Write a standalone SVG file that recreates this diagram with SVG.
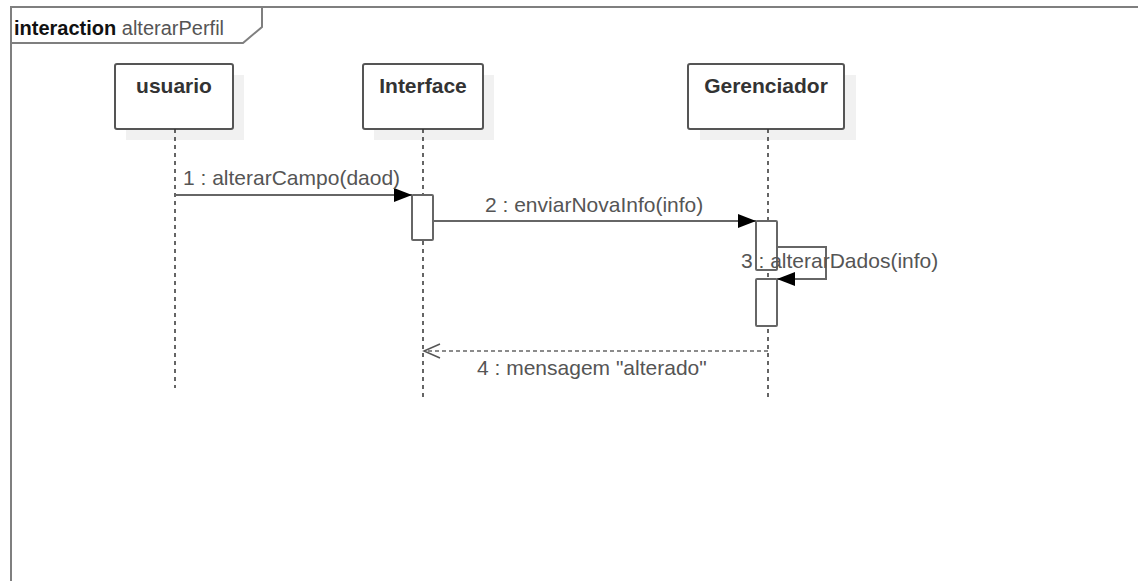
<svg xmlns="http://www.w3.org/2000/svg" width="1138" height="581" viewBox="0 0 1138 581">
<defs>
<style>
.frame{fill:none;stroke:#7f7f7f;stroke-width:2}
.box{fill:#ffffff;stroke:#555555;stroke-width:2}
.shadow{fill:#f1f1f1;stroke:none}
.life{fill:none;stroke:#333333;stroke-width:1.5;stroke-dasharray:4 4}
.act{fill:#ffffff;stroke:#666666;stroke-width:2}
.msg{fill:none;stroke:#666666;stroke-width:2}
.ret{fill:none;stroke:#666666;stroke-width:1.5;stroke-dasharray:4 3}
.title{font-family:"Liberation Sans",Arial,sans-serif;font-size:21px;font-weight:bold;fill:#333333;text-anchor:middle}
.lbl{font-family:"Liberation Sans",Arial,sans-serif;font-size:21px;fill:#555555}
</style>
<marker id="filled" markerWidth="20" markerHeight="14" refX="18" refY="7" orient="auto" markerUnits="userSpaceOnUse">
<path d="M0,0 L18,7 L0,14 Z" fill="#000000"/>
</marker>
<marker id="open" markerWidth="20" markerHeight="16" refX="17" refY="8" orient="auto" markerUnits="userSpaceOnUse">
<path d="M1,1 L17,8 L1,15" fill="none" stroke="#555555" stroke-width="1.5"/>
</marker>
</defs>
<rect width="1138" height="581" fill="#ffffff"/>
<g id="frame">
<path class="frame" d="M11,581 L11,7 L1140,7"/>
<path class="frame" d="M11,43 L243,43 L262,27 L262,7"/>
<text x="14" y="35" style="font-family:'Liberation Sans',Arial,sans-serif;font-size:20px"><tspan font-weight="bold" fill="#111111">interaction</tspan><tspan fill="#555555"> alterarPerfil</tspan></text>
</g>
<g id="usuario">
<rect class="shadow" x="126" y="75" width="118" height="65"/>
<rect class="box" x="115" y="64" width="118" height="65" rx="2"/>
<text class="title" x="174" y="93">usuario</text>
<line class="life" x1="175" y1="129" x2="175" y2="388"/>
</g>
<g id="interface">
<rect class="shadow" x="374" y="75" width="120" height="65"/>
<rect class="box" x="363" y="64" width="120" height="65" rx="2"/>
<text class="title" x="423" y="93">Interface</text>
<line class="life" x1="423" y1="129" x2="423" y2="398"/>
<rect class="act" x="412" y="195" width="21" height="45" rx="1"/>
</g>
<g id="gerenciador">
<rect class="shadow" x="700" y="75" width="156" height="65"/>
<rect class="box" x="688" y="64" width="156" height="65" rx="2"/>
<text class="title" x="766" y="93">Gerenciador</text>
<line class="life" x1="768" y1="129" x2="768" y2="398"/>
<rect class="act" x="756" y="221" width="21" height="49" rx="1"/>
<rect class="act" x="756" y="279" width="21" height="47" rx="1"/>
</g>
<g id="connectors">
<line class="msg" x1="175" y1="195" x2="412" y2="195" marker-end="url(#filled)"/>
<text class="lbl" x="183" y="185">1 : alterarCampo(daod)</text>
<line class="msg" x1="433" y1="221" x2="756" y2="221" marker-end="url(#filled)"/>
<text class="lbl" x="485" y="212">2 : enviarNovaInfo(info)</text>
<path class="msg" d="M777,247 L826,247 L826,279 L777,279" marker-end="url(#filled)"/>
<text class="lbl" x="741" y="268">3 : alterarDados(info)</text>
<line class="ret" x1="768" y1="351" x2="424" y2="351" marker-end="url(#open)"/>
<text class="lbl" x="477" y="375">4 : mensagem "alterado"</text>
</g>
</svg>
